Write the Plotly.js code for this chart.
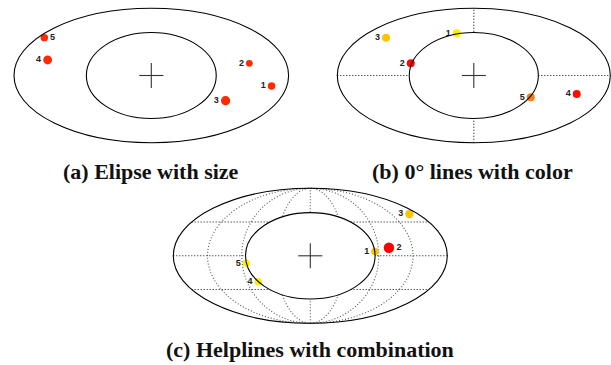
<!DOCTYPE html>
<html>
<head>
<meta charset="utf-8">
<script src="https://cdn.plot.ly/plotly-3.0.1.min.js"></script>
<style>
  html, body { margin: 0; padding: 0; background: #fff; }
  #plot { width: 611px; height: 365px; }
</style>
</head>
<body>
<div id="plot"></div>
<script>
// point positions in ellipse units (outer ellipse = -1..1 on both axes)
const labels = ['1', '2', '3', '4', '5'];

const sizeX = [0.876, 0.714, 0.541, -0.755, -0.779];
const sizeY = [-0.156, 0.181, -0.375, 0.231, 0.563];
const sizeVal = [7.5, 6.8, 9.3, 8.8, 7.4];

const colorX = [-0.125, -0.462, -0.643, 0.754, 0.417];
const colorY = [0.628, 0.182, 0.563, -0.275, -0.324];
const colorVal = ['#ffee00', '#ff0a00', '#ffc400', '#ff0a00', '#ff8000'];

const comboX = [0.472, 0.574, 0.723, -0.380, -0.467];
const comboY = [0.064, 0.120, 0.619, -0.384, -0.111];
const comboSize = [7.5, 10.5, 8.3, 7.4, 7.4];
const comboColor = ['#ffc400', '#ff0000', '#ffc400', '#ffee00', '#ffee00'];

const titles = ['(a) Elipse with size', '(b) 0\u00b0 lines with color', '(c) Helplines with combination'];

const W = 611, H = 365;
const innerA = 0.473, innerB = 0.64;

// map a pixel box onto an axis whose unit is the ellipse semi-axis
function xAxis(lo, hi, c, s) {
    return { domain: [lo / W, hi / W], range: [(lo - c) / s, (hi - c) / s],
             visible: false, fixedrange: true };
}
function yAxis(lo, hi, c, s) {
    return { domain: [1 - hi / H, 1 - lo / H], range: [(c - hi) / s, (c - lo) / s],
             visible: false, fixedrange: true };
}

const solid = { color: '#000', width: 1.1 };
const dots = { color: '#111', width: 1.1, dash: '1px,2px' };
const greyDots = { color: '#555', width: 1.1, dash: '1px,2px' };

function ellipse(ax, rx, ry, line, fill, layer) {
    return { type: 'circle', xref: 'x' + ax, yref: 'y' + ax,
             x0: -rx, x1: rx, y0: -ry, y1: ry,
             line: line, fillcolor: fill, layer: layer };
}
function seg(ax, x0, y0, x1, y1, line, layer) {
    return { type: 'line', xref: 'x' + ax, yref: 'y' + ax,
             x0: x0, y0: y0, x1: x1, y1: y1, line: line, layer: layer };
}

let shapes = [];
['', '2', '3'].forEach((ax, i) => {
    // helplines go under the inner white fill
    if (i === 1) {
        shapes.push(seg(ax, -1, 0, 1, 0, dots, 'below'));
        shapes.push(seg(ax, 0, -1, 0, 1, dots, 'below'));
    }
    if (i === 2) {
        [0.25, 0.5, 0.75].forEach(w => shapes.push(ellipse(ax, w, 1, greyDots, 'rgba(0,0,0,0)', 'below')));
        shapes.push(seg(ax, 0, -1, 0, 1, greyDots, 'below'));
        [-0.5, 0, 0.5].forEach(y => {
            const half = Math.sqrt(1 - y * y);
            shapes.push(seg(ax, -half, y, half, y, dots, 'below'));
        });
    }
    shapes.push(ellipse(ax, innerA, innerB, { width: 0 }, '#fff', 'below'));
    // outlines and cross sit above the markers
    shapes.push(ellipse(ax, 1, 1, solid, 'rgba(0,0,0,0)', 'above'));
    shapes.push(ellipse(ax, innerA, innerB, solid, 'rgba(0,0,0,0)', 'above'));
    shapes.push(seg(ax, -0.088, 0, 0.088, 0, { color: '#333', width: 1.1 }, 'above'));
    shapes.push(seg(ax, 0, -0.185, 0, 0.185, { color: '#333', width: 1.1 }, 'above'));
});

const labelFont = { family: 'Liberation Sans, Arial, sans-serif', size: 9, color: '#222', weight: 'bold' };

let data = [
    { x: sizeX, y: sizeY, text: labels, xaxis: 'x', yaxis: 'y',
      type: 'scatter', mode: 'markers+text', hoverinfo: 'none',
      textposition: ['middle left', 'middle left', 'middle left', 'middle left', 'middle right'],
      textfont: labelFont, cliponaxis: false,
      marker: { size: sizeVal, color: '#ff2a00', opacity: 1, line: { width: 0 } } },
    { x: colorX, y: colorY, text: labels, xaxis: 'x2', yaxis: 'y2',
      type: 'scatter', mode: 'markers+text', hoverinfo: 'none',
      textposition: 'middle left', textfont: labelFont, cliponaxis: false,
      marker: { size: 8, color: colorVal, opacity: 1, line: { width: 0 } } },
    { x: comboX, y: comboY, text: labels, xaxis: 'x3', yaxis: 'y3',
      type: 'scatter', mode: 'markers+text', hoverinfo: 'none',
      textposition: ['middle left', 'middle right', 'middle left', 'middle left', 'middle left'],
      textfont: labelFont, cliponaxis: false,
      marker: { size: comboSize, color: comboColor, opacity: 1, line: { width: 0 } } }
];

const titleFont = { family: 'Liberation Serif, Times New Roman, serif', size: 22, color: '#111', weight: 'bold' };
const titlePos = [[151, 171], [473, 171], [310, 349]];

let layout = {
    width: W, height: H,
    margin: { l: 0, r: 0, t: 0, b: 0 },
    paper_bgcolor: '#fff', plot_bgcolor: 'rgba(0,0,0,0)',
    showlegend: false,
    xaxis: xAxis(0, 302, 151.3, 137.3), yaxis: yAxis(0, 150, 75.5, 67.2),
    xaxis2: xAxis(322, 611, 473.8, 136.5), yaxis2: yAxis(0, 150, 75.5, 67.2),
    xaxis3: xAxis(158, 463, 310.3, 137), yaxis3: yAxis(183, 329, 255.8, 67.5),
    shapes: shapes,
    annotations: titles.map((t, i) => ({
        text: t, xref: 'paper', yref: 'paper',
        x: titlePos[i][0] / W, y: 1 - titlePos[i][1] / H,
        xanchor: 'center', yanchor: 'middle', showarrow: false, font: titleFont
    }))
};

Plotly.newPlot('plot', data, layout, { staticPlot: true, displayModeBar: false });
</script>
</body>
</html>
